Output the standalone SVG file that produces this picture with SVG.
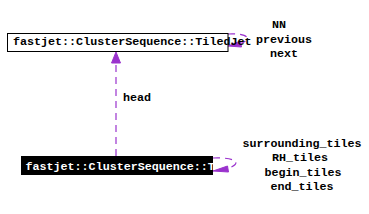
<svg xmlns="http://www.w3.org/2000/svg" width="369" height="214" viewBox="0 0 369 214">
<style>
text{font-family:"Liberation Mono","DejaVu Sans Mono",monospace;font-weight:bold;font-size:11.7px}
.lbl{fill:#000;text-anchor:middle}
.edge{fill:none;stroke:#9a32cd;stroke-width:1.2;stroke-dasharray:7,5}
.head{fill:#9a32cd;stroke:#9a32cd}
</style>
<defs>
<clipPath id="clipB"><rect x="21" y="156" width="192" height="19"/></clipPath>
</defs>
<rect width="369" height="214" fill="#fff"/>
<g id="connectors">
<path class="edge" d="M116,156 L116,63"/>
<polygon class="head" points="116,52 120.5,63 111.5,63"/>
<text class="lbl" x="137" y="101">head</text>
<path class="edge" d="M228,34 C245,33 254,38 241,43.5"/>
<polygon class="head" points="228,46 240.5,41 241.5,47"/>
<path class="edge" d="M213,158 C232,157 245,162 228,168.5"/>
<polygon class="head" points="213,171 227.5,166 228.5,172"/>
</g>
<g id="node-tiledjet">
<rect x="7.5" y="33.5" width="220.5" height="18" fill="#fff" stroke="#000" stroke-width="1"/>
<text x="13" y="45" fill="#000">fastjet::ClusterSequence::TiledJet</text>
</g>
<g id="node-tile">
<rect x="21" y="156" width="192" height="19" fill="#000"/>
<text x="25.5" y="169.5" fill="#fff" clip-path="url(#clipB)">fastjet::ClusterSequence::T</text>
</g>
<g id="labels-tiledjet">
<text class="lbl" x="279" y="28">NN</text>
<text class="lbl" x="284" y="43">previous</text>
<text class="lbl" x="284" y="57">next</text>
</g>
<g id="labels-tile">
<text class="lbl" x="302" y="147">surrounding_tiles</text>
<text class="lbl" x="300" y="161">RH_tiles</text>
<text class="lbl" x="303" y="176">begin_tiles</text>
<text class="lbl" x="302" y="190">end_tiles</text>
</g>
</svg>
